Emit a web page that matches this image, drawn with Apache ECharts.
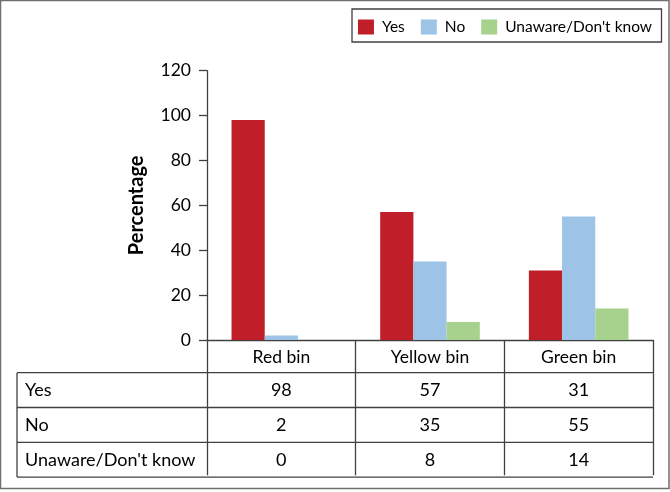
<!DOCTYPE html>
<html>
<head>
<meta charset="utf-8">
<script src="https://cdn.jsdelivr.net/npm/echarts@6/dist/echarts.min.js"></script>
<style>
html,body{margin:0;padding:0;background:#fff;}
#c{width:670px;height:492px;}
</style>
</head>
<body>
<div id="c"></div>
<script>
const categories = ["Red bin", "Yellow bin", "Green bin"];
const seriesNames = ["Yes", "No", "Unaware/Don't know"];
const yesValues = [98, 57, 31];
const noValues = [2, 35, 55];
const unawareValues = [0, 8, 14];
const yTicks = [0, 20, 40, 60, 80, 100, 120];

const colors = ["#C01F2A", "#9DC3E6", "#A6D28D"];
const FONT = "Lato";
const lineColor = "#404040";
const rowH = 34.8;
const headerH = 32.7;
const tableLeft = 17;

const chart = echarts.init(document.getElementById('c'), null, {renderer: 'canvas'});
const seriesData = [yesValues, noValues, unawareValues];

const option = {
  animation: false,
  backgroundColor: '#fff',
  textStyle: {fontFamily: FONT},
  grid: {left: 207, right: 17, top: 70.7, bottom: 152, containLabel: false},
  legend: {
    data: seriesNames,
    right: 13, top: 14,
    itemWidth: 16, itemHeight: 15, itemGap: 16,
    icon: 'rect',
    textStyle: {fontFamily: FONT, fontSize: 15.5, color: '#000', padding: [0, 0, 0, 3]}
  },
  xAxis: {
    type: 'category',
    data: categories,
    axisLine: {show: true, lineStyle: {color: lineColor, width: 1.3}},
    axisTick: {show: true, length: 135.3, interval: 0, lineStyle: {color: lineColor, width: 1.3}},
    axisLabel: {fontFamily: FONT, fontSize: 17.5, color: '#000', margin: 8},
    splitLine: {show: false}
  },
  yAxis: {
    type: 'value',
    min: yTicks[0], max: yTicks[yTicks.length - 1], interval: 20,
    name: 'Percentage',
    nameLocation: 'middle',
    nameGap: 60,
    nameTextStyle: {fontFamily: FONT, fontSize: 20, fontWeight: 'bold', color: '#000'},
    axisLine: {show: true, lineStyle: {color: lineColor, width: 1.3}},
    axisTick: {show: true, length: 8, lineStyle: {color: lineColor, width: 1.3}},
    axisLabel: {fontFamily: FONT, fontSize: 17.5, color: '#000', margin: 16},
    splitLine: {show: false}
  },
  series: seriesNames.map((n, i) => ({
    name: n,
    type: 'bar',
    data: seriesData[i],
    barGap: '0%',
    barCategoryGap: '33%',
    itemStyle: {color: colors[i]}
  }))
};
chart.setOption(option);

// Build table & frame from the axis scales
const x0 = chart.convertToPixel({xAxisIndex: 0}, 0);
const x1 = chart.convertToPixel({xAxisIndex: 0}, 1);
const band = x1 - x0;
const rightEdge = chart.convertToPixel({xAxisIndex: 0}, categories.length - 1) + band / 2;
const baseY = chart.convertToPixel({yAxisIndex: 0}, 0);
const tableTop = baseY + headerH;

const g = [];
g.push({type: 'rect', shape: {x: 0.5, y: 0.5, width: 668.5, height: 488}, style: {fill: 'none', stroke: '#6f6f6f', lineWidth: 1.5}, silent: true});
g.push({type: 'rect', shape: {x: 352, y: 9, width: 309.5, height: 33}, style: {fill: 'none', stroke: lineColor, lineWidth: 1.3}, silent: true, z: -1});

const rows = [yesValues, noValues, unawareValues];
for (let r = 0; r <= rows.length; r++) {
  const y = tableTop + r * rowH;
  g.push({type: 'line', shape: {x1: tableLeft, y1: y, x2: rightEdge, y2: y}, style: {stroke: lineColor, lineWidth: 1.3}, silent: true});
}
g.push({type: 'line', shape: {x1: tableLeft, y1: tableTop, x2: tableLeft, y2: tableTop + rows.length * rowH}, style: {stroke: lineColor, lineWidth: 1.3}, silent: true});

rows.forEach((vals, r) => {
  const cy = tableTop + r * rowH + rowH / 2;
  g.push({type: 'text', x: tableLeft + 8, y: cy, style: {text: seriesNames[r], fontFamily: FONT, fontSize: 18, fill: '#000', align: 'left', verticalAlign: 'middle'}, silent: true});
  vals.forEach((v, c) => {
    const cx = chart.convertToPixel({xAxisIndex: 0}, c);
    g.push({type: 'text', x: cx, y: cy, style: {text: String(v), fontFamily: FONT, fontSize: 18, fill: '#000', align: 'center', verticalAlign: 'middle'}, silent: true});
  });
});

chart.setOption({graphic: {elements: g}});
</script>
</body>
</html>
